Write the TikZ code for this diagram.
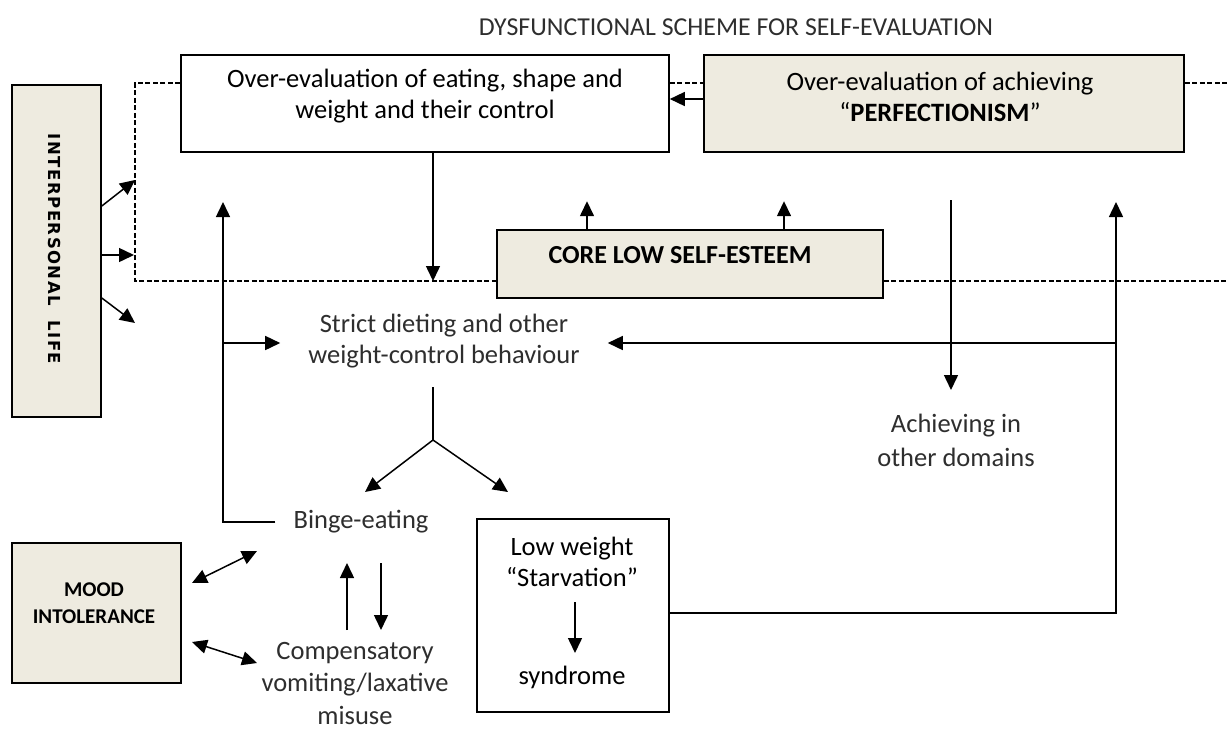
\documentclass[tikz,border=0pt]{standalone}
\usepackage{fontspec}
\setmainfont{Carlito}
\newfontfamily\spacedfont[LetterSpace=9]{DejaVu Sans}
\usetikzlibrary{arrows.meta,calc}

\definecolor{boxfill}{HTML}{EEEBE0}
\definecolor{softtext}{HTML}{2E2E2E}

\tikzset{
  box/.style={draw, line width=1.6pt, fill=white, inner sep=0pt},
  tanbox/.style={box, fill=boxfill},
  label/.style={align=center, inner sep=0pt, font=\fontsize{26.5}{31}\selectfont},
  softlabel/.style={label, text=softtext},
  tip/.style={-{Triangle[length=15pt,width=14pt]}},
  conn/.style={line width=1.5pt, tip},
  link/.style={line width=1.5pt},
  both/.style={line width=1.5pt, {Triangle[length=15pt,width=14pt]}-{Triangle[length=15pt,width=14pt]}},
  frame/.style={line width=1.5pt, dash pattern=on 5pt off 2.5pt}
}

\begin{document}
\begin{tikzpicture}[x=1pt, y=-1pt]
  % canvas
  \path[fill=white, use as bounding box] (0,0) rectangle (1228,729);

  % title
  \node[softlabel, font=\fontsize{25.8}{30}\selectfont] (title) at (736,27)
    {DYSFUNCTIONAL SCHEME FOR SELF-EVALUATION};

  % boxes
  \node[box, minimum width=488pt, minimum height=97pt] (evalA) at (425,103.5) {};
  \node[label] (evalAtxt) at (425,96.5)
    {Over-evaluation of eating, shape and\\weight and their control};

  \node[tanbox, minimum width=480pt, minimum height=97pt] (evalB) at (944,103.5) {};
  \node[label] (evalBtxt) at (940,96.5)
    {Over-evaluation of achieving\\``\textbf{PERFECTIONISM}''};

  \node[tanbox, minimum width=386pt, minimum height=68pt] (core) at (690,264) {};
  \node[label, font=\fontsize{26}{30}\bfseries] (coretxt) at (680,255)
    {CORE LOW SELF-ESTEEM};

  \node[tanbox, minimum width=89pt, minimum height=332pt] (ip) at (56.5,251) {};
  \node[inner sep=0pt, rotate=-90, font=\spacedfont\bfseries\fontsize{16.5}{20}\selectfont]
    (iptxt) at (55,249) {INTERPERSONAL\ \ LIFE};

  \node[tanbox, minimum width=169pt, minimum height=140pt] (mood) at (96.5,613) {};
  \node[label, font=\fontsize{21}{27}\bfseries] (moodtxt) at (94,603.5)
    {MOOD\\INTOLERANCE};

  \node[box, minimum width=192pt, minimum height=193pt] (lowW) at (573,615.5) {};
  \node[label] (lowtxt) at (572,562) {Low weight\\``Starvation''};
  \node[label] (syntxt) at (572,677) {syndrome};
  \coordinate (sArrowTop) at (575,602);
  \coordinate (sArrowEnd) at (575,653);
  \draw[conn] (sArrowTop) -- (sArrowEnd);

  % free-standing labels
  \node[softlabel, inner xsep=28pt] (strict) at (444,341)
    {Strict dieting and other\\weight-control behaviour};
  \node[softlabel, inner xsep=18pt] (binge) at (361,522) {Binge-eating};
  \node[softlabel, font=\fontsize{26.5}{32.5}\selectfont] (comp) at (355,683)
    {Compensatory\\vomiting/laxative\\misuse};
  \node[softlabel, font=\fontsize{26.5}{34}\selectfont] (achieve) at (956,440)
    {Achieving in\\other domains};

  % dashed frame of the self-evaluation scheme
  \coordinate (dTL) at (135,83);
  \coordinate (dBL) at (135,281);
  \coordinate (dTR) at (1228,83);
  \coordinate (dBR) at (1228,281);
  \draw[frame] (evalA.west |- dTL) -- (dTL) -- (dBL) -- (core.west |- dBL);
  \draw[frame] (core.east |- dBL) -- (dBR);
  \draw[frame] (evalA.east |- dTL) -- (evalB.west |- dTL);
  \draw[frame] (evalB.east |- dTL) -- (dTR);

  % perfectionism feeds eating over-evaluation
  \draw[conn] ($(evalB.west)+(0,-4.5)$) -- ($(evalA.east)+(0,-4.5)$);

  % eating over-evaluation down to the frame line
  \coordinate (aDown) at ($(evalA.south)+(8,0)$);
  \draw[conn] (aDown) -- (aDown |- dBL);

  % core self-esteem up arrows
  \draw[conn] ($(core.north)+(-103,0)$) -- ++(0,-28);
  \draw[conn] ($(core.north)+(94,0)$) -- ++(0,-28);

  % interpersonal life arrows
  \coordinate (ipT1) at (135,180);
  \coordinate (ipT2) at (134,255);
  \coordinate (ipT3) at (135,323);
  \draw[conn] ($(ip.east)+(0,-45)$) -- (ipT1);
  \draw[conn] ($(ip.east)+(0,4)$) -- (ipT2);
  \draw[conn] ($(ip.east)+(0,47)$) -- (ipT3);

  % left feedback loop from binge-eating
  \coordinate (fbTop) at (223,202);
  \coordinate (fbBranch) at (223,343);
  \draw[conn] (binge.west) -- (binge.west -| fbTop) -- (fbTop);
  \draw[conn] (fbBranch) -- (strict.west |- fbBranch);

  % achieving in other domains
  \coordinate (achTop) at (951,200);
  \coordinate (achEnd) at (951,390);
  \draw[conn] (achTop) -- (achEnd);

  % right feedback loop from low weight
  \coordinate (rTop) at (1116,202);
  \coordinate (rBranch) at (1116,343);
  \coordinate (rCorner) at (1116,613);
  \draw[conn] (lowW.east |- rCorner) -- (rCorner) -- (rTop);
  \draw[conn] (rBranch) -- (strict.east |- rBranch);

  % split from strict dieting
  \coordinate (yTop) at (433,387);
  \coordinate (ySplit) at (433,440);
  \coordinate (toBinge) at (365,492);
  \coordinate (toLow) at (508,492);
  \draw[link] (yTop) -- (ySplit);
  \draw[conn] (ySplit) -- (toBinge);
  \draw[conn] (ySplit) -- (toLow);

  % binge-eating and compensatory behaviour
  \coordinate (upA) at (347,630);
  \coordinate (upB) at (347,563);
  \coordinate (dnA) at (381,563);
  \coordinate (dnB) at (381,630);
  \draw[conn] (upA) -- (upB);
  \draw[conn] (dnA) -- (dnB);

  % mood intolerance links
  \coordinate (m1a) at (192,583);
  \coordinate (m1b) at (257,551);
  \coordinate (m2a) at (192,642);
  \coordinate (m2b) at (257,663);
  \draw[both] (m1a) -- (m1b);
  \draw[both] (m2a) -- (m2b);
\end{tikzpicture}
\end{document}
